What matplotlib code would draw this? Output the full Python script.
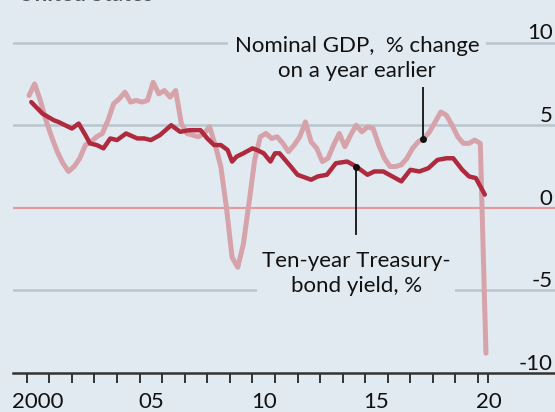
import numpy as np
import matplotlib

matplotlib.use("Agg")
import matplotlib.pyplot as plt
from matplotlib.transforms import offset_copy

BG = "#e2eaf1"
GDP_COLOR = "#d6a3aa"
YIELD_COLOR = "#b02a3e"
GRID_COLOR = "#b9c5ce"
ZERO_COLOR = "#e39a9e"

# nominal GDP, % change on a year earlier (quarterly, 2000Q1 - 2020Q2)
gdp_years = np.arange(82) * 0.25 + 2000.1
gdp_vals = [
    6.8, 7.5, 6.5, 5.3, 4.3, 3.4, 2.7, 2.2,
    2.5, 3.0, 3.8, 4.0, 4.3, 4.5, 5.3, 6.3,
    6.6, 7.0, 6.4, 6.5, 6.4, 6.5, 7.6, 6.9,
    7.1, 6.7, 7.1, 5.1, 4.5, 4.4, 4.3, 4.5,
    4.9, 3.8, 2.5, 0.0, -3.0, -3.6, -2.2, 0.3,
    2.9, 4.3, 4.5, 4.2, 4.3, 3.9, 3.4, 3.8,
    4.3, 5.2, 4.0, 3.6, 2.8, 3.0, 3.8, 4.5,
    3.7, 4.4, 5.0, 4.6, 4.9, 4.8, 3.8, 3.0,
    2.5, 2.5, 2.6, 3.0, 3.6, 4.0, 4.2, 4.6,
    5.2, 5.8, 5.6, 5.0, 4.3, 3.9, 3.9, 4.1,
    3.9, -8.8,
]

# ten-year Treasury-bond yield, %
yield_years = [
    2000.2, 2000.7, 2001.2, 2001.4, 2001.7, 2002.0, 2002.3, 2002.6, 2002.8,
    2003.1, 2003.4, 2003.7, 2004.0, 2004.4, 2004.9, 2005.2, 2005.5, 2005.9,
    2006.4, 2006.8, 2007.2, 2007.7, 2008.0, 2008.3, 2008.6, 2008.9, 2009.1,
    2009.3, 2009.6, 2010.0, 2010.2, 2010.5, 2010.8, 2011.0, 2011.2, 2011.7,
    2012.0, 2012.6, 2012.9, 2013.3, 2013.7, 2014.2, 2014.6, 2015.1, 2015.4,
    2015.8, 2016.2, 2016.6, 2017.0, 2017.4, 2017.8, 2018.2, 2018.6, 2018.9,
    2019.3, 2019.6, 2019.9, 2020.3,
]
yield_vals = [
    6.4, 5.7, 5.3, 5.2, 5.0, 4.8, 5.1, 4.4, 3.9,
    3.8, 3.6, 4.2, 4.1, 4.5, 4.2, 4.2, 4.1, 4.4,
    5.0, 4.6, 4.7, 4.7, 4.2, 3.8, 3.8, 3.5, 2.8,
    3.1, 3.3, 3.6, 3.5, 3.3, 2.8, 3.3, 3.3, 2.5,
    2.0, 1.7, 1.9, 2.0, 2.7, 2.8, 2.5, 2.0, 2.2,
    2.2, 1.9, 1.6, 2.3, 2.2, 2.4, 2.9, 3.0, 3.0,
    2.3, 1.9, 1.8, 0.8,
]

year_ticks = list(range(2000, 2021)) + [2020.45]
year_labels = ["2000", "05", "10", "15", "20"]
label_years = [2000, 2005, 2010, 2015, 2020]
y_ticks = [-10, -5, 0, 5, 10]

plt.rcParams["font.family"] = ["Lato", "DejaVu Sans"]

fig = plt.figure(figsize=(5.55, 4.12), dpi=100, facecolor=BG)
ax = fig.add_axes([13 / 555, 39 / 412, 542 / 555, 373 / 412])
ax.set_facecolor(BG)
ax.set_xlim(1999.39, 2023.41)
ax.set_ylim(-10, 12.58)

for v in (-5, 5, 10):
    ax.axhline(v, color=GRID_COLOR, lw=1.8, zorder=1)
ax.axhline(0, color=ZERO_COLOR, lw=1.6, zorder=1)

ax.plot(gdp_years, gdp_vals, color=GDP_COLOR, lw=3.6, zorder=3,
        solid_joinstyle="round", solid_capstyle="round")
ax.plot(yield_years, yield_vals, color=YIELD_COLOR, lw=3.2, zorder=4,
        solid_joinstyle="round", solid_capstyle="round")

for s in ("left", "right", "top"):
    ax.spines[s].set_visible(False)
ax.spines["bottom"].set_color("#333333")
ax.spines["bottom"].set_linewidth(1.8)

ax.set_yticks([])
ax.set_xticks(year_ticks)
ax.set_xticklabels([])
ax.tick_params(axis="x", which="major", length=7, width=1.4, color="#333333")
ax.set_xticks([y + 0.5 for y in label_years], minor=True)
ax.set_xticklabels(year_labels, minor=True)
ax.tick_params(axis="x", which="minor", length=0, pad=14, labelsize=16,
               labelcolor="#111111")

lab_tr = offset_copy(ax.transData, fig=fig, x=0, y=-0.5, units="points")
for v in y_ticks:
    ax.text(2023.3, v, str(v), transform=lab_tr, ha="right", va="bottom",
            fontsize=16, color="#111111", zorder=6)

# annotations
gdp_dot = np.interp(2017.55, gdp_years, gdp_vals)
ax.plot([2017.55, 2017.55], [gdp_dot, 7.3], color="#111111", lw=1.3, zorder=5)
ax.plot([2017.55], [gdp_dot], "o", color="#111111", ms=4, zorder=5)
ax.text(2014.65, 9.05, "Nominal GDP,  % change\non a year earlier",
        ha="center", va="center", fontsize=16, linespacing=1.3,
        color="#111111", zorder=6,
        bbox=dict(boxstyle="square,pad=0.3", fc=BG, ec="none"))

yl_dot = np.interp(2014.6, yield_years, yield_vals)
ax.plot([2014.6, 2014.6], [yl_dot, -1.6], color="#111111", lw=1.3, zorder=5)
ax.plot([2014.6], [yl_dot], "o", color="#111111", ms=4, zorder=5)
ax.text(2014.6, -4.0, "Ten-year Treasury-\nbond yield, %",
        ha="center", va="center", fontsize=16, linespacing=1.3,
        color="#111111", zorder=6,
        bbox=dict(boxstyle="square,pad=0.2", fc=BG, ec="none"))

fig.text(18 / 555, 1 - 1 / 412, "United States", ha="left", va="baseline",
         fontsize=16, fontweight="bold", color="#555555")

fig.savefig("out.png", dpi=100, facecolor=BG)
